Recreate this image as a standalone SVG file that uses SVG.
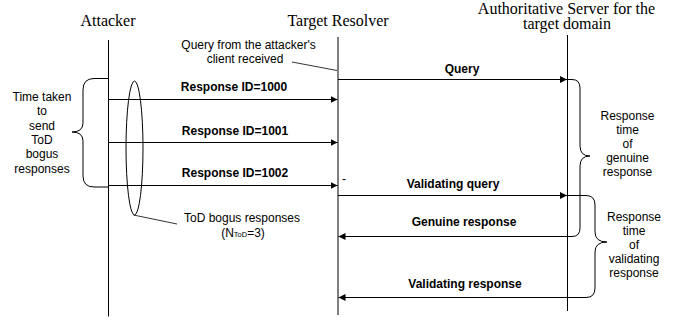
<svg xmlns="http://www.w3.org/2000/svg" width="674" height="320" viewBox="0 0 674 320">
  <defs>
    <marker id="arrow" markerWidth="8" markerHeight="7" refX="7" refY="3.5" orient="auto" markerUnits="userSpaceOnUse">
      <path d="M0,0 L7,3.5 L0,7 z" fill="#000"/>
    </marker>
    <style>
      .head { font-family: "Liberation Serif", "Times New Roman", serif; font-size: 16px; fill: #000; text-anchor: middle; }
      .note { font-family: "Liberation Sans", Arial, sans-serif; font-size: 12px; fill: #000; text-anchor: middle; }
      .msg-label { font-family: "Liberation Sans", Arial, sans-serif; font-size: 12px; font-weight: bold; fill: #000; text-anchor: middle; }
      .life { stroke: #000; stroke-width: 1; fill: none; }
      .msg { stroke: #000; stroke-width: 1; fill: none; marker-end: url(#arrow); }
      .brace { stroke: #000; stroke-width: 1; fill: none; }
      .lead { stroke: #000; stroke-width: 0.8; fill: none; }
    </style>
  </defs>

  <rect width="674" height="320" fill="#fff"/>

  <!-- Lifelines -->
  <g id="attacker">
    <text class="head" x="108" y="25.5">Attacker</text>
    <line class="life" x1="108.5" y1="40" x2="108.5" y2="316.5"/>
  </g>
  <g id="resolver">
    <text class="head" x="338" y="25.5">Target Resolver</text>
    <line class="life" x1="338" y1="37" x2="338" y2="315"/>
  </g>
  <g id="authoritative">
    <text class="head" x="566.5" y="13.5">Authoritative Server for the</text>
    <text class="head" x="567" y="29">target domain</text>
    <line class="life" x1="567.5" y1="35" x2="567.5" y2="311"/>
  </g>

  <!-- Messages -->
  <g id="connectors">
    <line class="msg" x1="338" y1="79.5" x2="567" y2="79.5"/>
    <text class="msg-label" x="462" y="73">Query</text>

    <line class="msg" x1="108.5" y1="99.5" x2="337.5" y2="99.5"/>
    <text class="msg-label" x="234" y="91">Response ID=1000</text>

    <line class="msg" x1="108.5" y1="142.5" x2="337.5" y2="142.5"/>
    <text class="msg-label" x="235" y="135">Response ID=1001</text>

    <line class="msg" x1="108.5" y1="185.5" x2="337.5" y2="185.5"/>
    <text class="msg-label" x="235" y="177">Response ID=1002</text>

    <line class="msg" x1="338" y1="195.5" x2="567" y2="195.5"/>
    <text class="msg-label" x="453" y="188">Validating query</text>

    <line class="msg" x1="567.5" y1="236.5" x2="338.5" y2="236.5"/>
    <text class="msg-label" x="464" y="226">Genuine response</text>

    <line class="msg" x1="567.5" y1="297.5" x2="338.5" y2="297.5"/>
    <text class="msg-label" x="465" y="288">Validating response</text>
  </g>

  <!-- Client query note -->
  <g id="client-query-note">
    <text class="note" x="248.5" y="48.5">Query from the attacker's</text>
    <text class="note" x="245" y="62.5">client received</text>
    <line class="lead" x1="292" y1="62" x2="337" y2="70.5"/>
  </g>

  <!-- Stray mark beside the resolver -->
  <text class="note" x="344" y="182.5">-</text>

  <!-- Sending time brace -->
  <g id="send-time">
    <path class="brace" d="M108.5,78.5 H94 Q83,78.5 83,90 V123 Q83,132 72,132 Q83,132 83,141 V176 Q83,187 94,187 H108.5"/>
    <text class="note" x="42" y="101">Time taken</text>
    <text class="note" x="42" y="115.3">to</text>
    <text class="note" x="42" y="129.6">send</text>
    <text class="note" x="42" y="144">ToD</text>
    <text class="note" x="42" y="158.2">bogus</text>
    <text class="note" x="42" y="172.5">responses</text>
  </g>

  <!-- Bogus responses group -->
  <g id="bogus-group">
    <ellipse class="brace" cx="134.5" cy="148" rx="8.5" ry="67"/>
    <line class="lead" x1="133.5" y1="215" x2="177" y2="224"/>
    <text class="note" x="242" y="221.5">ToD bogus responses</text>
    <text class="note" x="243" y="236.7">(N<tspan font-size="7.5" dy="0.5">ToD</tspan><tspan dy="-0.5">=3)</tspan></text>
  </g>

  <!-- Genuine response time brace -->
  <g id="genuine-time">
    <path class="brace" d="M567.5,79.5 H572 Q580,79.5 580,88 V146 Q580,156 590,156 Q580,156 580,166 V228 Q580,236.5 572,236.5 H567.5"/>
    <text class="note" x="627.5" y="120">Response</text>
    <text class="note" x="627.5" y="134">time</text>
    <text class="note" x="627.5" y="148">of</text>
    <text class="note" x="627.5" y="162">genuine</text>
    <text class="note" x="627.5" y="176">response</text>
  </g>

  <!-- Validating response time brace -->
  <g id="validating-time">
    <path class="brace" d="M567.5,195.5 H586 Q595,195.5 595,205 V232 Q595,242 607,242 Q595,242 595,252 V288 Q595,297.5 586,297.5 H567.5"/>
    <text class="note" x="634" y="220.5">Response</text>
    <text class="note" x="634" y="234.5">time</text>
    <text class="note" x="634" y="248.5">of</text>
    <text class="note" x="634" y="262.5">validating</text>
    <text class="note" x="634" y="276.5">response</text>
  </g>
</svg>
